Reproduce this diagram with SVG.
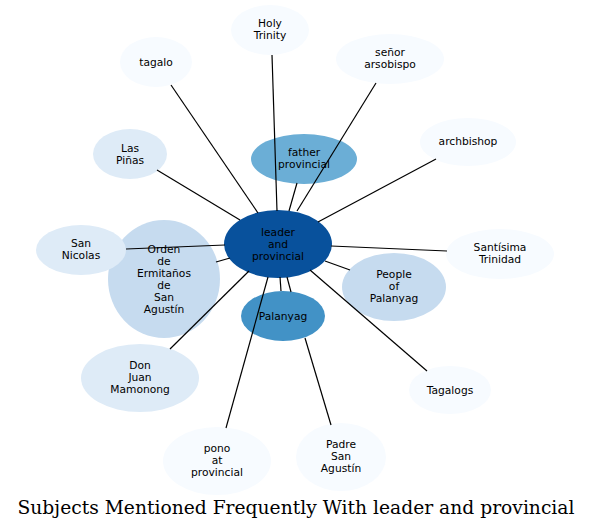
<svg xmlns="http://www.w3.org/2000/svg" width="592" height="530" viewBox="0 0 592 530">
<style>
.lbl{font-family:"DejaVu Sans",sans-serif;font-size:10.7px;fill:#000;text-anchor:middle}
.title{font-family:"DejaVu Serif",serif;font-size:18.7px;fill:#000;text-anchor:middle}
.e{stroke:#000;stroke-width:1.2;fill:none}
.c0{fill:#08519c}.c1{fill:#4292c6}.c2{fill:#6baed6}.c3{fill:#c6dbef}.c4{fill:#deebf7}.c5{fill:#f7fbff}
</style>
<rect width="592" height="530" fill="#fff"/>
<g id="n-orden"><ellipse class="c3" cx="164" cy="279" rx="56" ry="59"/><text class="lbl" x="164" y="253"><tspan x="164">Orden</tspan><tspan x="164" dy="12">de</tspan><tspan x="164" dy="12">Ermitaños</tspan><tspan x="164" dy="12">de</tspan><tspan x="164" dy="12">San</tspan><tspan x="164" dy="12">Agustín</tspan></text></g>
<g id="n-sannicolas"><ellipse class="c4" cx="81" cy="250" rx="45" ry="25"/><text class="lbl" y="247"><tspan x="81">San</tspan><tspan x="81" dy="12">Nicolas</tspan></text></g>
<g id="n-center"><ellipse class="c0" cx="278" cy="244" rx="54" ry="34"/><text class="lbl" y="236"><tspan x="278">leader</tspan><tspan x="278" dy="12">and</tspan><tspan x="278" dy="12">provincial</tspan></text></g>
<g id="n-holytrinity"><ellipse class="c5" cx="270" cy="30" rx="39" ry="25"/><text class="lbl" y="27"><tspan x="270">Holy</tspan><tspan x="270" dy="12">Trinity</tspan></text></g>
<g id="n-tagalo"><ellipse class="c5" cx="156" cy="62" rx="36" ry="25"/><text class="lbl" x="156" y="66">tagalo</text></g>
<g id="n-senor"><ellipse class="c5" cx="390" cy="59" rx="54" ry="25"/><text class="lbl" y="56"><tspan x="390">señor</tspan><tspan x="390" dy="12">arsobispo</tspan></text></g>
<g id="n-archbishop"><ellipse class="c5" cx="468" cy="142" rx="48" ry="24"/><text class="lbl" x="468" y="145">archbishop</text></g>
<g id="n-father"><ellipse class="c2" cx="304" cy="159" rx="53" ry="25"/><text class="lbl" y="156"><tspan x="304">father</tspan><tspan x="304" dy="12">provincial</tspan></text></g>
<g id="n-laspinas"><ellipse class="c4" cx="130" cy="154" rx="37" ry="25"/><text class="lbl" y="152"><tspan x="130">Las</tspan><tspan x="130" dy="12">Piñas</tspan></text></g>
<g id="n-santisima"><ellipse class="c5" cx="500" cy="254" rx="54" ry="25"/><text class="lbl" y="251"><tspan x="500">Santísima</tspan><tspan x="500" dy="12">Trinidad</tspan></text></g>
<g id="n-people"><ellipse class="c3" cx="394" cy="287" rx="52" ry="34"/><text class="lbl" y="278"><tspan x="394">People</tspan><tspan x="394" dy="12">of</tspan><tspan x="394" dy="12">Palanyag</tspan></text></g>
<g id="n-palanyag"><ellipse class="c1" cx="283" cy="316" rx="42" ry="25"/><text class="lbl" x="283" y="320">Palanyag</text></g>
<g id="n-donjuan"><ellipse class="c4" cx="140" cy="378" rx="59" ry="34"/><text class="lbl" y="369"><tspan x="140">Don</tspan><tspan x="140" dy="12">Juan</tspan><tspan x="140" dy="12">Mamonong</tspan></text></g>
<g id="n-tagalogs"><ellipse class="c5" cx="450" cy="390" rx="41" ry="24"/><text class="lbl" x="450" y="394">Tagalogs</text></g>
<g id="n-pono"><ellipse class="c5" cx="217" cy="461" rx="54" ry="34"/><text class="lbl" y="452"><tspan x="217">pono</tspan><tspan x="217" dy="12">at</tspan><tspan x="217" dy="12">provincial</tspan></text></g>
<g id="n-padre"><ellipse class="c5" cx="341" cy="457" rx="45" ry="34"/><text class="lbl" y="448"><tspan x="341">Padre</tspan><tspan x="341" dy="12">San</tspan><tspan x="341" dy="12">Agustín</tspan></text></g>
<g id="connectors">
<line class="e" x1="272" y1="55" x2="277" y2="211"/>
<line class="e" x1="171" y1="85" x2="258" y2="213"/>
<line class="e" x1="376" y1="83" x2="297" y2="211"/>
<line class="e" x1="297" y1="183" x2="289" y2="211"/>
<line class="e" x1="436" y1="159" x2="318" y2="222"/>
<line class="e" x1="157" y1="170" x2="240" y2="220"/>
<line class="e" x1="126" y1="249" x2="225" y2="245"/>
<line class="e" x1="216" y1="262" x2="230" y2="258"/>
<line class="e" x1="447" y1="251" x2="331" y2="246"/>
<line class="e" x1="350" y1="270" x2="325" y2="261"/>
<line class="e" x1="280" y1="277" x2="281" y2="291"/>
<line class="e" x1="287" y1="277" x2="291" y2="292"/>
<line class="e" x1="305" y1="338" x2="331" y2="425"/>
<line class="e" x1="310" y1="270" x2="427" y2="371"/>
<line class="e" x1="249" y1="271" x2="170" y2="349"/>
<line class="e" x1="268" y1="277" x2="226" y2="428"/>
</g>
<text class="title" x="296" y="514">Subjects Mentioned Frequently With leader and provincial</text>
</svg>
